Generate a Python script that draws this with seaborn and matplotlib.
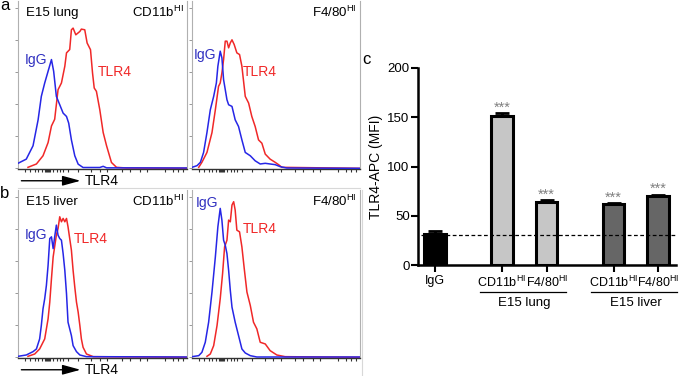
import matplotlib
matplotlib.use('agg')
import matplotlib.pyplot as plt
import matplotlib.transforms as mtrans
import seaborn as sns
import pandas as pd
import numpy as np

# ---------------- histogram data (channel 0-100, % of max) ----------------
lung_cd11b_igg_x = [0, 4.9, 8.9, 11.9, 13.8, 15.8, 17.8, 19.8, 21.1, 22.7, 24.3, 26.7, 28.7, 30, 31.6, 33.6, 35.6, 38.5, 48.4, 50.4, 52.4, 100]
lung_cd11b_igg_y = [3, 5.5, 13.5, 29, 43, 51, 58, 65, 58, 43, 39, 33, 31, 27, 17, 7.5, 2.5, 0.5, 0.5, 1.2, 0.3, 0.2]
lung_cd11b_tlr4_x = [5.9, 10.9, 14.8, 17.8, 19.8, 21.7, 23.7, 25.7, 27.7, 28.7, 30.6, 31.6, 32.6, 34.2, 36.6, 37.5, 39.5, 40.9, 42.9, 44.1, 45.1, 46.4, 48.4, 50.4, 52.4, 55.3, 58.3, 64.2, 100]
lung_cd11b_tlr4_y = [0.6, 2.6, 7.5, 15.4, 25.3, 29.3, 47, 51, 61, 69, 71, 82.8, 83.8, 79.8, 81.8, 83.2, 82.8, 74.9, 70.9, 57, 48, 46, 35, 21.4, 13.5, 3.5, 0.6, 0.2, 0]

lung_f480_igg_x = [0, 3, 5, 6.9, 8.9, 10.9, 12.9, 14.5, 15.4, 16.8, 17.8, 18.8, 20.8, 21.8, 23.8, 25.7, 27.7, 29.7, 31.7, 34.7, 37.6, 40.6, 43.6, 46.5, 49.5, 52.5, 56.4, 100]
lung_f480_igg_y = [0.6, 1.6, 3.6, 9.5, 21.4, 35, 43, 51, 61, 70, 66, 53, 41, 38, 37, 29, 25, 17, 9.5, 7.5, 4.5, 2.6, 3, 2.6, 2.2, 1, 0.2, 0]
lung_f480_tlr4_x = [4, 5.9, 8.9, 11.9, 13.9, 15.8, 16.8, 17.8, 18.8, 19.8, 20.8, 21.8, 22.8, 23.8, 25.1, 26.7, 28.3, 29.7, 31.7, 33.7, 35.6, 37.6, 39.6, 41.6, 43.6, 46.5, 49.5, 51.5, 53.5, 100]
lung_f480_tlr4_y = [0.6, 3.6, 9.5, 21.4, 35, 49, 51, 57, 65, 76, 76, 72, 75, 76.8, 74, 69, 68, 61, 43, 39, 31, 25, 17, 15, 8.5, 5.5, 3.6, 2.2, 0.6, 0]

liver_cd11b_igg_x = [0, 4.9, 8.9, 10.9, 12.8, 13.8, 14.8, 15.8, 16.8, 17.8, 18.8, 19.8, 20.8, 21.7, 22.7, 23.7, 24.7, 25.7, 26.7, 27.7, 28.7, 29.6, 30.6, 31.6, 32.6, 34.6, 36.6, 40.5, 100]
liver_cd11b_igg_y = [0.6, 1.4, 3.4, 5, 11, 19, 29, 35, 43, 55, 71, 72, 65, 72, 79, 73, 71, 70, 62, 52, 38, 21, 17, 13, 7, 3.4, 1.4, 0.4, 0.2]
liver_cd11b_tlr4_x = [5.9, 9.9, 12.8, 15.8, 17.8, 18.8, 19.8, 20.8, 22.7, 23.7, 24.7, 25.7, 26.7, 27.7, 28.7, 29.6, 30.6, 31.6, 32.6, 33.6, 34.6, 35.6, 36.6, 37.5, 38.5, 40.5, 44.5, 100]
liver_cd11b_tlr4_y = [0.6, 2, 5, 11, 23, 33, 47, 60, 73, 77, 84, 81, 83, 81, 83, 78, 71, 64, 52, 42, 33, 27, 19, 11, 6, 2, 0.4, 0]

liver_f480_igg_x = [0, 4, 5.9, 7.9, 9.9, 11.9, 13.9, 15.4, 16.8, 17.8, 18.8, 19.8, 20.8, 21.8, 22.8, 23.8, 25.7, 27.7, 29.7, 31.7, 34.7, 38.6, 100]
liver_f480_igg_y = [0.4, 1, 3, 9, 21, 39, 60, 78, 89, 82, 70, 67, 62, 52, 40, 30, 21, 13, 5, 2.6, 1, 0.2, 0.2]
liver_f480_tlr4_x = [8.9, 10.9, 12.9, 14.9, 16.8, 18.2, 19.4, 20.8, 21.8, 22.8, 23.8, 24.8, 25.7, 26.7, 28.3, 29.7, 31.1, 32.7, 34.7, 36.6, 38.6, 40.6, 43.6, 46.5, 50.5, 55.4, 100]
liver_f480_tlr4_y = [0.6, 2, 7, 19, 35, 50, 66, 70, 82, 81, 91, 93, 88, 76, 75, 66, 53, 39, 31, 21, 17, 9, 8, 4, 1.4, 0.4, 0]

# ---------------- bar chart data ----------------
bar_groups = ["IgG", "lung CD11b", "lung F4/80", "liver CD11b", "liver F4/80"]
bar_labels = ["IgG", r"CD11b$^{\mathregular{HI}}$", r"F4/80$^{\mathregular{HI}}$",
              r"CD11b$^{\mathregular{HI}}$", r"F4/80$^{\mathregular{HI}}$"]
bar_mfi = [31, 151.5, 64, 62, 70]
bar_sem = [3.5, 3, 2, 1, 1.5]
bar_stars = ["", "***", "***", "***", "***"]
bar_colors = ["#000000", "#c6c6c6", "#c6c6c6", "#666666", "#666666"]
igg_line = 30

plt.rcParams['font.family'] = ['Liberation Sans', 'DejaVu Sans']
plt.rcParams['mathtext.fontset'] = 'custom'
plt.rcParams['mathtext.rm'] = 'Liberation Sans'

BLUE = "#2626e6"
RED = "#f02828"

fig = plt.figure(figsize=(6.85, 3.76), dpi=100)

W, H = 685.0, 376.0
def px_axes(x0, y0, x1, y1):
    return fig.add_axes([x0 / W, 1 - y1 / H, (x1 - x0) / W, (y1 - y0) / H])

hist_panels = [
    # (box px, igg, tlr4, left text, right text, IgG pos, TLR4 pos)
    ((18, 1, 187, 169), (lung_cd11b_igg_x, lung_cd11b_igg_y), (lung_cd11b_tlr4_x, lung_cd11b_tlr4_y),
     "E15 lung", r"CD11b$^{\mathregular{HI}}$", (0.04, 0.65), (0.47, 0.58)),
    ((192, 1, 360, 169), (lung_f480_igg_x, lung_f480_igg_y), (lung_f480_tlr4_x, lung_f480_tlr4_y),
     "", r"F4/80$^{\mathregular{HI}}$", (0.01, 0.68), (0.30, 0.58)),
    ((18, 190, 187, 358), (liver_cd11b_igg_x, liver_cd11b_igg_y), (liver_cd11b_tlr4_x, liver_cd11b_tlr4_y),
     "E15 liver", r"CD11b$^{\mathregular{HI}}$", (0.04, 0.73), (0.33, 0.71)),
    ((192, 190, 360, 358), (liver_f480_igg_x, liver_f480_igg_y), (liver_f480_tlr4_x, liver_f480_tlr4_y),
     "", r"F4/80$^{\mathregular{HI}}$", (0.02, 0.92), (0.30, 0.77)),
]

xtick_pos = [4.1, 7.1, 10.1, 11.8, 14.2, 16, 16.6, 17.2, 17.8, 18.4, 19, 20.7, 23.1, 24.9, 26.6, 29.6,
             35.5, 43.2, 48.5, 52.7, 61.5, 66.3, 72.2, 76.3, 87, 91.7, 94.7, 97.6]

hist_axes = []
for box, igg, tlr, ltxt, rtxt, igg_pos, tlr_pos in hist_panels:
    ax = px_axes(*box)
    df_i = pd.DataFrame({"ch": igg[0], "count": igg[1]})
    df_t = pd.DataFrame({"ch": tlr[0], "count": tlr[1]})
    sns.lineplot(data=df_i, x="ch", y="count", color=BLUE, lw=1.1, ax=ax, zorder=4)
    sns.lineplot(data=df_t, x="ch", y="count", color=RED, lw=1.1, ax=ax, zorder=3)
    ax.set_xlim(0, 100)
    ax.set_ylim(-0.4, 100)
    ax.set_xlabel("")
    ax.set_ylabel("")
    ax.set_yticks(np.arange(0, 100, 19.2))
    ax.set_xticks(xtick_pos)
    ax.set_xticklabels([])
    ax.set_yticklabels([])
    ax.tick_params(axis='y', length=2.5, width=0.6, color="#888888", direction='out')
    ax.tick_params(axis='x', length=2.5, width=0.8, color="#333333", direction='out')
    for s in ["left", "top", "right"]:
        ax.spines[s].set_color("#b0b0b0")
        ax.spines[s].set_linewidth(0.8)
    ax.spines["top"].set_visible(False)
    ax.spines["bottom"].set_color("#333333")
    ax.spines["bottom"].set_linewidth(1.0)
    if ltxt:
        ax.text(0.05, 0.93, ltxt, transform=ax.transAxes, fontsize=9.5, va='center', ha='left')
    ax.text(0.98, 0.93, rtxt, transform=ax.transAxes, fontsize=9.5, va='center', ha='right')
    ax.text(igg_pos[0], igg_pos[1], "IgG", transform=ax.transAxes, fontsize=10, color="#3030c0",
            va='center', ha='left')
    ax.text(tlr_pos[0], tlr_pos[1], "TLR4", transform=ax.transAxes, fontsize=10, color=RED,
            va='center', ha='left')
    hist_axes.append(ax)

# flow arrows under the left column
for ax in (hist_axes[0], hist_axes[2]):
    ax.annotate("", xy=(0.37, -0.07), xytext=(0.02, -0.07), xycoords=ax.transAxes,
                arrowprops=dict(arrowstyle='-|>,head_length=1.1,head_width=0.3', color='black',
                                lw=1.0, mutation_scale=10, shrinkA=0, shrinkB=0),
                annotation_clip=False)
    ax.text(0.395, -0.07, "TLR4", transform=ax.transAxes, fontsize=10, va='center', ha='left')

fig.text(0 / W, 1 - 6 / H, "a", fontsize=12, va='center', ha='left')
fig.text(0 / W, 1 - 193 / H, "b", fontsize=12, va='center', ha='left')
fig.text(362 / W, 1 - 60 / H, "c", fontsize=12, va='center', ha='left')

# faint image borders
fig.add_artist(plt.Line2D([18 / W, 360 / W], [1 - 188 / H] * 2, color="#d8d8d8", lw=0.8))
fig.add_artist(plt.Line2D([362 / W, 362 / W], [1 - 190 / H, 1 - 376 / H], color="#d8d8d8", lw=0.8))

# ---------------- bar chart ----------------
slot_order = ["IgG", "_s1", "_s2", "lung CD11b", "_s3", "lung F4/80", "_s4", "_s5",
              "liver CD11b", "_s6", "liver F4/80"]
df_bar = pd.DataFrame({"group": bar_groups, "mfi": bar_mfi})
axc = px_axes(418, 68, 676, 265)
sns.barplot(data=df_bar, x="group", y="mfi", hue="group", order=slot_order, hue_order=bar_groups,
            palette=dict(zip(bar_groups, bar_colors)), width=0.98, edgecolor="black",
            linewidth=2.2, legend=False, ax=axc, zorder=2)
bar_x = [slot_order.index(g) for g in bar_groups]
axc.errorbar(bar_x, bar_mfi, yerr=[[0] * len(bar_mfi), bar_sem], fmt='none', ecolor='black',
             elinewidth=2, capsize=5, capthick=2, zorder=1)
axc.axhline(igg_line, xmin=0.01, xmax=1, ls=(0, (3, 2)), color='black', lw=0.9, zorder=5)
for x, v, e, s in zip(bar_x, bar_mfi, bar_sem, bar_stars):
    if s:
        axc.text(x, v + e + 1.5, s, ha='center', va='baseline', fontsize=10.5, color="#808080")

axc.set_xlim(-0.76, 10.8)
axc.set_ylim(0, 200)
axc.set_yticks([0, 50, 100, 150, 200])
axc.set_xticks(bar_x)
axc.set_xticklabels(bar_labels, fontsize=9)
axc.tick_params(axis='y', labelsize=9.5, length=5, width=1.5, pad=1)
axc.tick_params(axis='x', length=5, width=1.5, pad=2)
axc.set_xlabel("")
axc.set_ylabel("TLR4-APC (MFI)", fontsize=10, labelpad=3)
sns.despine(ax=axc)
axc.spines["left"].set_linewidth(1.8)
axc.spines["bottom"].set_linewidth(1.8)

blend = mtrans.blended_transform_factory(axc.transData, axc.transAxes)
for first, last, name in [("lung CD11b", "lung F4/80", "E15 lung"),
                          ("liver CD11b", "liver F4/80", "E15 liver")]:
    a = slot_order.index(first)
    b = slot_order.index(last)
    axc.plot([a - 1.0, b + 0.85], [-0.137, -0.137], transform=blend, color='black', lw=0.9,
             clip_on=False)
    axc.text((a + b) / 2, -0.195, name, transform=blend, ha='center', va='center', fontsize=9.5)

fig.savefig("out.png", dpi=100)
